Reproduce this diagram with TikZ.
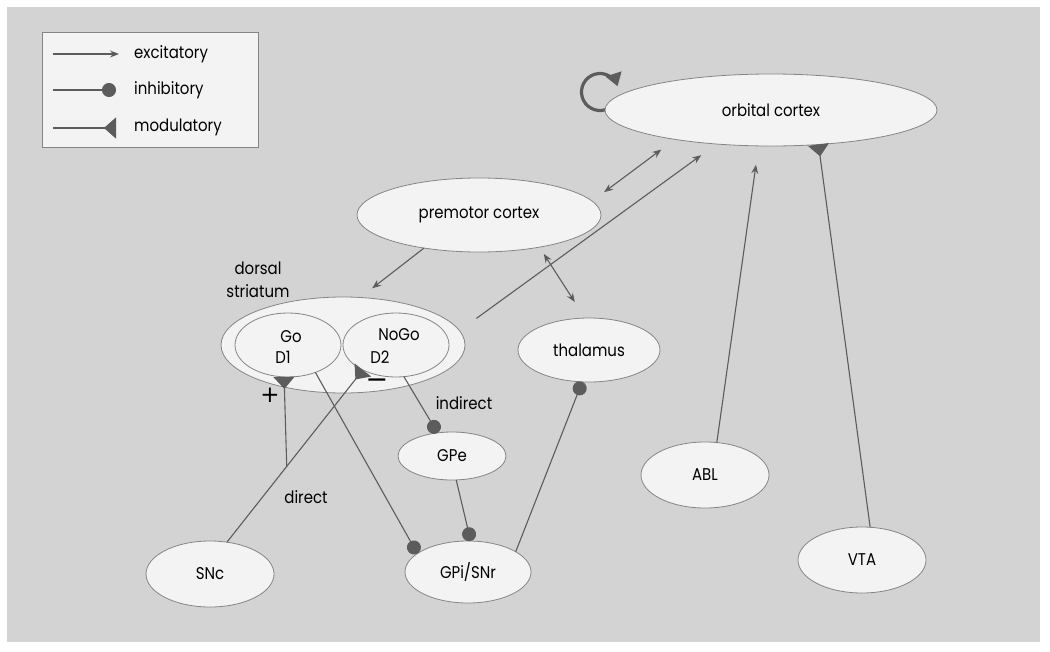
\documentclass[tikz,border=0pt]{standalone}
\usepackage{fontspec}
\setmainfont{Poppins}[FakeStretch=0.88]
\newfontfamily\symfont{DejaVu Sans}
\usetikzlibrary{arrows.meta,shapes.geometric,calc}
\definecolor{bgc}{HTML}{D3D3D3}
\definecolor{nfill}{HTML}{F3F3F3}
\definecolor{nline}{HTML}{858585}
\definecolor{cline}{HTML}{5C5C5C}
\begin{document}
\begin{tikzpicture}[x=1pt,y=-1pt,
  region/.style={ellipse, draw=nline, fill=nfill, line width=0.8pt, inner sep=0pt, outer sep=0pt,
    font=\fontsize{17}{20}\selectfont},
  lbl/.style={inner sep=0pt, font=\fontsize{17}{23}\selectfont},
  conn/.style={draw=cline, line width=1.1pt},
  exc/.style={conn, -{Stealth[length=9pt,width=7pt,inset=3pt]}},
  bidir/.style={conn, {Stealth[length=9pt,width=7pt,inset=3pt]}-{Stealth[length=9pt,width=7pt,inset=3pt]}},
  inh/.style={conn, -{Circle[length=14pt]}},
  mod/.style={conn, -{Triangle[reversed,length=12pt,width=21pt]}},
  legbox/.style={rectangle, draw=nline, fill=nfill, line width=0.8pt, inner sep=0pt,
    minimum width=216pt, minimum height=115pt}
]
\useasboundingbox (0,0) rectangle (1050,651);
\fill[white] (0,0) rectangle (1050,651);
\fill[bgc] (7,7) rectangle (1040,642);

% legend
\node[legbox] (leg) at (150,89.5) {};
\coordinate (l1s) at (53,54);  \coordinate (l1e) at (119,54);
\coordinate (l2s) at (53,90);  \coordinate (l2e) at (116,90);
\coordinate (l3s) at (53,128); \coordinate (l3e) at (116,128);
\draw[exc] (l1s) -- (l1e);
\draw[inh] (l2s) -- (l2e);
\draw[mod] (l3s) -- (l3e);
\node[lbl, anchor=west] (t1) at (134,54) {excitatory};
\node[lbl, anchor=west] (t2) at (134,90) {inhibitory};
\node[lbl, anchor=west] (t3) at (134,127) {modulatory};

% self loop of orbital cortex
\coordinate (loopc) at (600,92);
\draw[draw=cline, line width=3.2pt, -{Triangle[length=13pt,width=16pt]}]
  (loopc) ++(40:18.5) arc[start angle=40, end angle=342, radius=18.5];

% regions
\node[region, minimum width=332pt, minimum height=72pt] (orb) at (771,110) {orbital cortex};
\node[region, minimum width=244pt, minimum height=74pt] (pm) at (479,215) {premotor cortex};
\node[region, minimum width=244pt, minimum height=96pt] (str) at (343,345) {};
\node[region, minimum width=106pt, minimum height=64pt] (go) at (288,345) {};
\node[region, minimum width=106pt, minimum height=64pt] (nogo) at (396,345) {};
\node[region, minimum width=142pt, minimum height=64pt] (thal) at (589,350) {thalamus};
\node[region, minimum width=108pt, minimum height=48pt] (gpe) at (452,456) {GPe};
\node[region, minimum width=126pt, minimum height=62pt] (gpi) at (468,572) {GPi/SNr};
\node[region, minimum width=128pt, minimum height=66pt] (snc) at (210,574) {SNc};
\node[region, minimum width=128pt, minimum height=66pt] (abl) at (705,475) {ABL};
\node[region, minimum width=128pt, minimum height=66pt] (vta) at (862,560) {VTA};

% labels
\node[lbl, align=center] (dslbl) at (258,280) {dorsal\\striatum};
\node[lbl] (golbl) at (291,337) {Go};
\node[lbl] (d1lbl) at (283,357) {D1};
\node[lbl] (nogolbl) at (399,335) {NoGo};
\node[lbl] (d2lbl) at (380,357) {D2};
\node[inner sep=0pt, font=\symfont\fontsize{23}{23}\selectfont] (plus) at (270,395) {+};
\node[inner sep=0pt, font=\symfont\fontsize{27}{27}\selectfont] (minus) at (377,384) {−};
\node[lbl] (indlbl) at (464,403) {indirect};
\node[lbl] (dirlbl) at (306,497) {direct};

% connectors
\draw[bidir, shorten <=15pt, shorten >=17pt] (pm.7) -- (orb.197);
\draw[exc, shorten <=21pt, shorten >=19pt] (str.7) -- (orb.212);
\draw[exc, shorten >=19pt] (abl.70) -- (orb.251);
\draw[mod] (vta.76) -- (orb.-36);
\draw[exc, shorten >=15pt] (pm.211) -- (str.70);
\draw[bidir, shorten <=8pt, shorten >=19pt] (pm.332) -- (thal.97);
\draw[inh] (gpi.23) -- (thal.258);
\draw[inh] (go.-45) -- (gpi.160);
\draw[inh] (nogo.-76) -- (gpe.122);
\draw[inh] (gpe.-80) -- (gpi.85);
\draw[mod] (snc.62) -- (nogo.217);
\coordinate (br) at ($(snc.62)!0.44!(nogo.217)$);
\draw[mod] (br) -- (go.263);
\end{tikzpicture}
\end{document}
